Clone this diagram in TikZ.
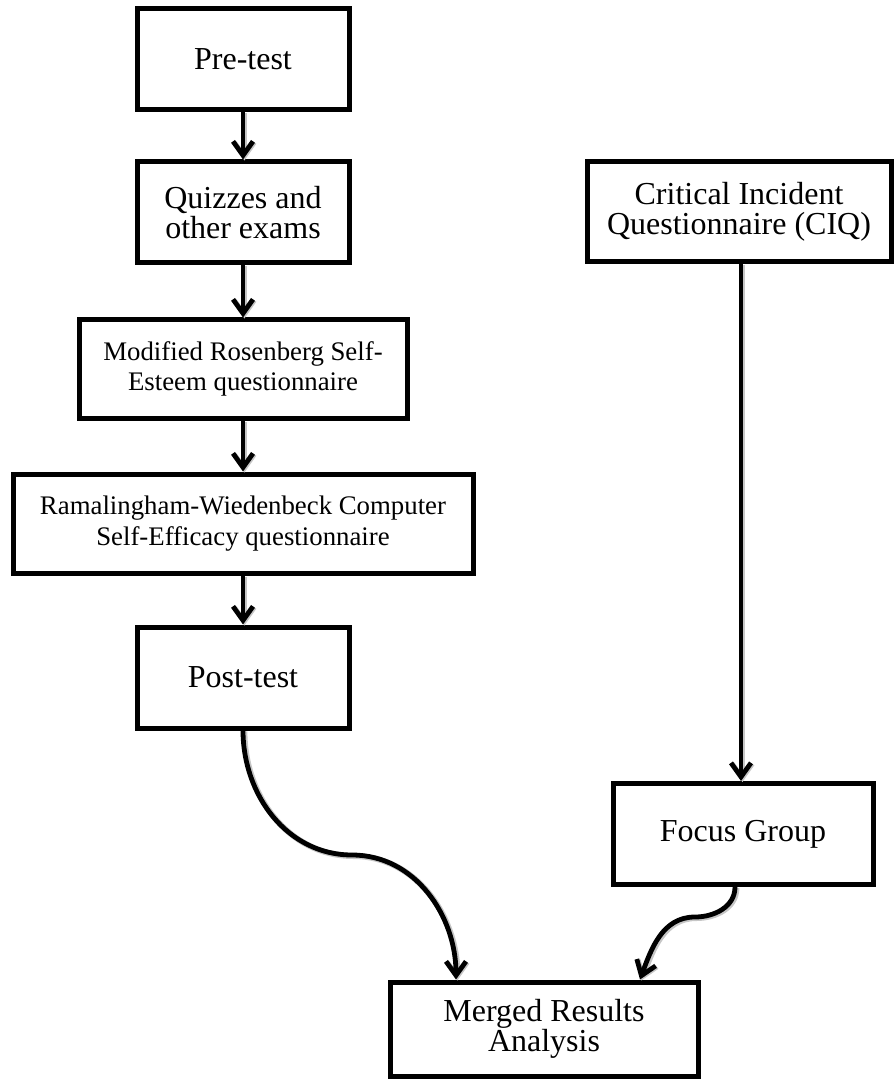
\documentclass[tikz,border=0pt]{standalone}
\usepackage{fontspec}
\setmainfont{Liberation Serif}
\usetikzlibrary{arrows.meta}

\newcommand{\bigtxt}{\fontsize{16}{14.8}\selectfont}
\newcommand{\smalltxt}{\fontsize{13.4}{15.4}\selectfont}

\tikzset{
  stagebox/.style={draw, line width=2.5pt, align=center, inner sep=0pt, font=\bigtxt},
  qbox/.style={stagebox, font=\smalltxt},
  flow/.style={line width=2.4pt, -{Straight Barb[length=7pt,width=10pt,line width=2.4pt]},
    preaction={draw, gray!45, line width=3pt, transform canvas={shift={(0.7pt,-0.5pt)}}}},
}

\begin{document}
\begin{tikzpicture}[x=0.5pt, y=-0.5pt]
  \useasboundingbox (0,0) rectangle (893,1080);

  % quantitative strand
  \node[stagebox, minimum width=106pt, minimum height=50.5pt] (pre) at (243,59.5) {Pre-test};
  \node[stagebox, minimum width=106pt, minimum height=50.5pt] (quiz) at (243,212.5) {Quizzes and\\other exams};
  \node[qbox, minimum width=164pt, minimum height=49pt] (rosen) at (243,369) {Modified Rosenberg Self-\\Esteem questionnaire};
  \node[qbox, minimum width=230pt, minimum height=49.5pt] (rama) at (243,523.5) {Ramalingham-Wiedenbeck Computer\\Self-Efficacy questionnaire};
  \node[stagebox, minimum width=106pt, minimum height=50.5pt] (post) at (243,677.5) {Post-test};

  % qualitative strand
  \node[stagebox, minimum width=152pt, minimum height=50pt] (ciq) at (739,212) {Critical Incident\\Questionnaire (CIQ)};
  \node[stagebox, minimum width=130pt, minimum height=50.5pt] (focus) at (743,834) {Focus Group};

  \node[stagebox, minimum width=154pt, minimum height=47pt] (merged) at (544,1029) {Merged Results\\Analysis};

  \draw[flow] (pre) -- (quiz);
  \draw[flow] (quiz) -- (rosen);
  \draw[flow] (rosen) -- (rama);
  \draw[flow] (rama) -- (post);
  \draw[flow] ([xshift=1pt]ciq.south) -- ([xshift=-1pt]focus.north);

  \coordinate (bendL) at (352,855);
  \coordinate (bendR) at (695,917);
  \draw[flow] (post.south) to[out=-90,in=180] (bendL) to[out=0,in=90] ([xshift=-44pt]merged.north);
  \draw[flow] ([xshift=-4pt]focus.south) to[out=-90,in=0] (bendR) to[out=180,in=70] ([xshift=48pt]merged.north);
\end{tikzpicture}
\end{document}
